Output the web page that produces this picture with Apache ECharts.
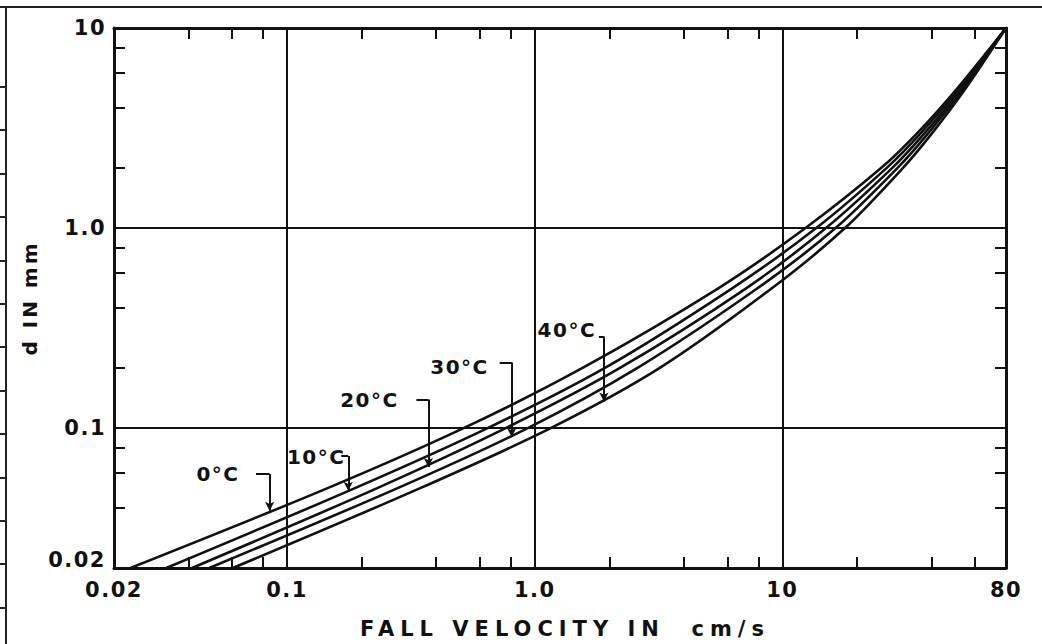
<!DOCTYPE html>
<html>
<head>
<meta charset="utf-8">
<script src="https://cdn.jsdelivr.net/npm/echarts@6/dist/echarts.min.js"></script>
<style>
html,body{margin:0;padding:0;background:#fff;}
#chart{width:1042px;height:644px;}
</style>
</head>
<body>
<div id="chart"></div>
<script>
// ---- data ----
const grainSizes = [0.02, 0.05, 0.1, 0.2, 0.5, 1, 2, 3, 5, 10];           // d in mm
const velocity0C  = [0.0233, 0.145, 0.516, 1.56, 5.51, 12.4, 25.1, 35.2, 50.9, 80];
const velocity10C = [0.0325, 0.187, 0.645, 1.92, 6.27, 13.7, 26.4, 36.4, 51.9, 80];
const velocity20C = [0.0413, 0.230, 0.763, 2.21, 7.14, 15.0, 27.8, 37.7, 53.0, 80];
const velocity30C = [0.0485, 0.278, 0.937, 2.60, 7.93, 16.4, 29.2, 39.0, 53.9, 80];
const velocity40C = [0.0604, 0.343, 1.16, 3.20, 9.07, 17.9, 30.7, 40.4, 55.0, 80];

const xTickValues = [0.02, 0.1, 1, 10, 80];
const xTickLabels = ['0.02', '0.1', '1.0', '10', '80'];
const yTickValues = [0.02, 0.1, 1, 10];
const yTickLabels = ['0.02', '0.1', '1.0', '10'];
const xMinorTicks = [0.04, 0.06, 0.08, 0.2, 0.4, 0.6, 0.8, 2, 4, 6, 8, 20, 40, 60];
const yMinorTicks = [0.04, 0.06, 0.08, 0.2, 0.4, 0.6, 0.8, 2, 4, 6, 8];
const xGridValues = [0.1, 1, 10];
const yGridValues = [0.1, 1];

// temperature annotations (value space)
const annLabels   = ['0°C', '10°C', '20°C', '30°C', '40°C'];
const annTextV    = [0.0526, 0.131, 0.215, 0.497, 1.348];
const annTextD    = [0.059, 0.072, 0.139, 0.203, 0.311];
const annBracketV = [0.0749, 0.1654, 0.333, 0.722, 1.816];
const annArrowV   = [0.085, 0.1766, 0.372, 0.807, 1.903];
const annTopD     = [0.059, 0.0726, 0.139, 0.213, 0.287];
const annTipD     = [0.0386, 0.0486, 0.064, 0.0902, 0.136];

// ---- chart ----
const INK = '#111';
const FONT = 'DejaVu Sans';
const chart = echarts.init(document.getElementById('chart'), null, {renderer: 'svg'});

function fmt(values, labels) {
  return function (v) {
    for (let i = 0; i < values.length; i++) {
      if (Math.abs(Math.log10(v) - Math.log10(values[i])) < 1e-6) {
        return values[i] === 0.02 && labels === yTickLabels ? '{lo|' + labels[i] + '}' : labels[i];
      }
    }
    return '';
  };
}

function logAxis(pos, min, max, minor, labelVals, labelTxt, showLabel, extra) {
  return Object.assign({
    type: 'log', logBase: 10, min: min, max: max, position: pos,
    axisLine: {show: true, lineStyle: {color: INK, width: 3}},
    axisTick: {show: true, inside: true, length: 11, customValues: minor,
               lineStyle: {color: INK, width: 2}},
    minorTick: {show: false},
    splitLine: {show: false},
    axisLabel: {show: showLabel, customValues: labelVals, formatter: fmt(labelVals, labelTxt),
                color: INK, fontFamily: FONT, fontWeight: 'bold', fontSize: 21,
                rich: {lo: {padding: [0, 0, 16, 0], color: INK, fontFamily: FONT, fontWeight: 'bold', fontSize: 21}}},
  }, extra || {});
}

function curve(name, vs) {
  return {
    name: name, type: 'line', xAxisIndex: 0, yAxisIndex: 0,
    data: grainSizes.map((d, i) => [vs[i], d]),
    showSymbol: false, smooth: 0.3, silent: true,
    lineStyle: {color: INK, width: 2.6}, z: 3
  };
}

const series = [
  curve('0°C', velocity0C),
  curve('10°C', velocity10C),
  curve('20°C', velocity20C),
  curve('30°C', velocity30C),
  curve('40°C', velocity40C)
];

// grid lines
series[0].markLine = {
  silent: true, symbol: 'none', label: {show: false}, animation: false,
  lineStyle: {color: INK, width: 2, type: 'solid'},
  data: xGridValues.map(v => ({xAxis: v})).concat(yGridValues.map(v => ({yAxis: v})))
};

// annotation labels + bracket leaders
const bracketLines = [];
annLabels.forEach((t, i) => {
  bracketLines.push([
    {coord: [annBracketV[i], annTopD[i]], symbol: 'none'},
    {coord: [annArrowV[i], annTopD[i]], symbol: 'none'}
  ]);
  bracketLines.push([
    {coord: [annArrowV[i], annTopD[i]], symbol: 'none'},
    {coord: [annArrowV[i], annTipD[i]], symbol: 'arrow', symbolSize: [7, 9]}
  ]);
});
series.push({
  type: 'scatter', xAxisIndex: 0, yAxisIndex: 0, silent: true,
  symbolSize: 1, itemStyle: {color: 'rgba(0,0,0,0)', opacity: 1},
  data: annLabels.map((t, i) => ({name: t, value: [annTextV[i], annTextD[i]]})),
  label: {show: true, position: 'inside', formatter: '{b}', color: INK, opacity: 1,
          fontFamily: FONT, fontWeight: 'bold', fontSize: 20},
  markLine: {
    silent: true, animation: false, label: {show: false},
    lineStyle: {color: INK, width: 2, type: 'solid', opacity: 1},
    itemStyle: {color: INK, opacity: 1},
    data: bracketLines
  },
  z: 4
});

// page frame decoration (edge of surrounding table in the scan)
const frame = [
  {type: 'line', shape: {x1: 0, y1: 7, x2: 1042, y2: 7}, style: {stroke: '#222', lineWidth: 2}},
  {type: 'line', shape: {x1: 6, y1: 7, x2: 6, y2: 644}, style: {stroke: '#222', lineWidth: 2}}
];
for (let k = 0; k < 13; k++) {
  const y = Math.round(87 + 43.4 * k);
  frame.push({type: 'line', shape: {x1: 0, y1: y, x2: 6, y2: y}, style: {stroke: '#222', lineWidth: 2}});
}

chart.setOption({
  animation: false,
  backgroundColor: '#fff',
  grid: {left: 114, right: 36, top: 28, bottom: 72, containLabel: false},
  xAxis: [
    logAxis('bottom', 0.02, 80, xMinorTicks, xTickValues, xTickLabels, true, {
      name: 'FALL VELOCITY IN  cm/s', nameLocation: 'middle', nameGap: 50,
      nameTextStyle: {color: INK, fontFamily: FONT, fontWeight: 'bold', fontSize: 21, padding: [0, 0, 0, 10]},
      axisLabel: {show: true, customValues: xTickValues, formatter: fmt(xTickValues, xTickLabels),
                  margin: 11, color: INK, fontFamily: FONT, fontWeight: 'bold', fontSize: 21}
    }),
    logAxis('top', 0.02, 80, xMinorTicks, xTickValues, xTickLabels, false)
  ],
  yAxis: [
    logAxis('left', 0.02, 10, yMinorTicks, yTickValues, yTickLabels, true, {
      name: 'd IN mm', nameLocation: 'middle', nameGap: 74, nameRotate: 90,
      nameTextStyle: {color: INK, fontFamily: FONT, fontWeight: 'bold', fontSize: 20}
    }),
    logAxis('right', 0.02, 10, yMinorTicks, yTickValues, yTickLabels, false)
  ],
  graphic: frame,
  series: series
});

function spaceText() {
  document.querySelectorAll('#chart svg text').forEach(el => {
    const s = el.textContent || '';
    if (s.indexOf('FALL') >= 0) el.style.letterSpacing = '6px';
    else if (s.indexOf('IN mm') >= 0) el.style.letterSpacing = '3px';
    else el.style.letterSpacing = '1.5px';
  });
}
spaceText();
chart.on('finished', spaceText);
setTimeout(spaceText, 50);
</script>
</body>
</html>
